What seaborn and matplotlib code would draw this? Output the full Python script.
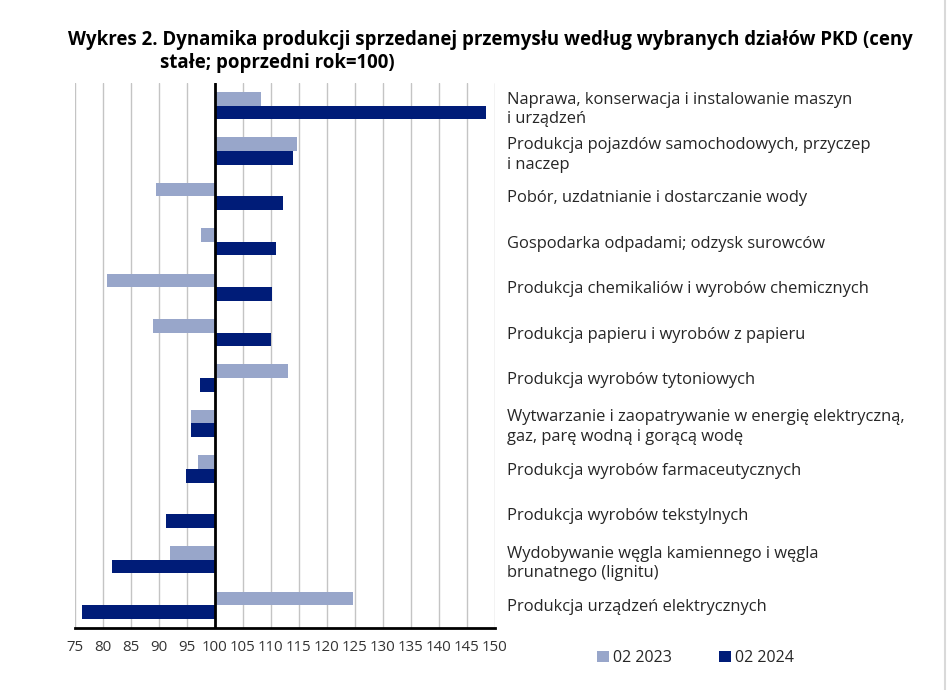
import matplotlib
matplotlib.use("Agg")
import matplotlib.pyplot as plt
import matplotlib.ticker as mticker
from matplotlib.lines import Line2D
from matplotlib.patches import Patch
import pandas as pd
import seaborn as sns

# dane: wskaźniki dynamiki (poprzedni rok = 100)
categories = [
    "Naprawa, konserwacja i instalowanie maszyn\ni urządzeń",
    "Produkcja pojazdów samochodowych, przyczep\ni naczep",
    "Pobór, uzdatnianie i dostarczanie wody",
    "Gospodarka odpadami; odzysk surowców",
    "Produkcja chemikaliów i wyrobów chemicznych",
    "Produkcja papieru i wyrobów z papieru",
    "Produkcja wyrobów tytoniowych",
    "Wytwarzanie i zaopatrywanie w energię elektryczną,\ngaz, parę wodną i gorącą wodę",
    "Produkcja wyrobów farmaceutycznych",
    "Produkcja wyrobów tekstylnych",
    "Wydobywanie węgla kamiennego i węgla\nbrunatnego (lignitu)",
    "Produkcja urządzeń elektrycznych",
]
feb_2023 = [108.3, 114.6, 89.4, 97.6, 80.8, 88.9, 113.0, 95.8, 96.9, 100.0, 92.0, 124.7]
feb_2024 = [148.5, 113.9, 112.2, 111.0, 110.2, 110.0, 97.4, 95.8, 94.9, 91.2, 81.6, 76.2]
series = ["02 2023", "02 2024"]
x_ticks = list(range(75, 151, 5))

BASE = 100
colors = {"02 2023": "#98a6ca", "02 2024": "#001c78"}

df = pd.DataFrame({
    "Dział": categories * 2,
    "Okres": [series[0]] * len(categories) + [series[1]] * len(categories),
    "Wartość": feb_2023 + feb_2024,
})
# słupki rysowane od poziomu 100
df["Odchylenie"] = df["Wartość"] - BASE

sns.set_style("white")
plt.rcParams["font.family"] = ["Open Sans", "DejaVu Sans"]

fig = plt.figure(figsize=(9.48, 6.90), dpi=100)
ax = fig.add_axes([0.079, 0.090, 0.443, 0.790])

sns.barplot(data=df, y="Dział", x="Odchylenie", hue="Okres", order=categories,
            hue_order=series, palette=colors, width=0.6, linewidth=0, saturation=1,
            orient="h", legend=False, ax=ax)

ax.set_xlim(x_ticks[0] - BASE, x_ticks[-1] - BASE)
ax.set_xticks([t - BASE for t in x_ticks])
ax.xaxis.set_major_formatter(mticker.FuncFormatter(lambda v, p: f"{v + BASE:.0f}"))
ax.grid(axis="x", color="#c4c4c4", linewidth=1.0)
ax.set_axisbelow(True)
ax.axvline(0, color="black", linewidth=2, zorder=5)

for side in ["top", "left", "right"]:
    ax.spines[side].set_visible(False)
ax.spines["bottom"].set_color("black")
ax.spines["bottom"].set_linewidth(2)

ax.yaxis.tick_right()
ax.tick_params(axis="y", length=0, pad=9, labelsize=11.9, labelcolor="#262626")
ax.tick_params(axis="x", length=0, pad=9, labelsize=10.8, labelcolor="#333333")
for lbl in ax.get_yticklabels():
    lbl.set_linespacing(1.3)
ax.set_xlabel("")
ax.set_ylabel("")

fig.text(0.072, 0.942, "Wykres 2. Dynamika produkcji sprzedanej przemysłu według wybranych działów PKD (ceny",
         fontsize=13.4, fontweight="bold", color="black", va="center")
fig.text(0.169, 0.908, "stałe; poprzedni rok=100)",
         fontsize=13.4, fontweight="bold", color="black", va="center")

handles = [Patch(facecolor=colors[s], edgecolor="none") for s in series]
fig.legend(handles, series, loc="center left", bbox_to_anchor=(0.615, 0.046), ncol=2,
           frameon=False, fontsize=11.5, handlelength=0.7, handleheight=0.7,
           handletextpad=0.25, columnspacing=3.0, labelcolor="#262626")

fig.add_artist(Line2D([0.997, 0.997], [0, 1], color="#d9d9d9", linewidth=1.5,
                      transform=fig.transFigure))

fig.savefig("out.png", dpi=100)
